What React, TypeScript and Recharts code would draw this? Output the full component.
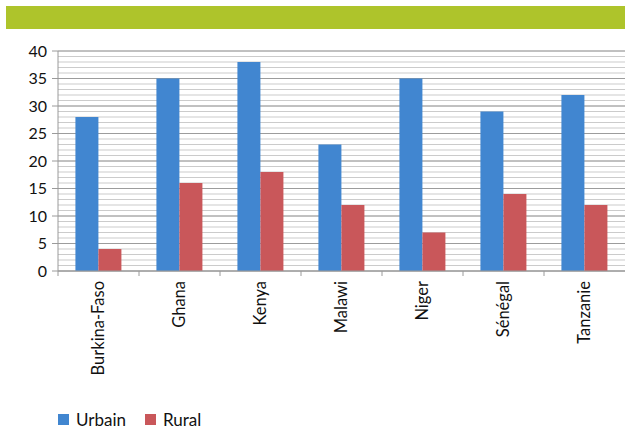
import React from "react";
import { BarChart, Bar, XAxis, YAxis, CartesianGrid, Legend } from "recharts";

const countries = ["Burkina-Faso", "Ghana", "Kenya", "Malawi", "Niger", "Sénégal", "Tanzanie"];
const urbain = [28, 35, 38, 23, 35, 29, 32];
const rural = [4, 16, 18, 12, 7, 14, 12];
const yTicks = [0, 5, 10, 15, 20, 25, 30, 35, 40];

const BLUE = "#4186D0";
const RED = "#C9575A";
const GREEN = "#AEC42B";
const FONT = "Lato, 'Open Sans', sans-serif";

const data = countries.map((c, i) => ({ country: c, Urbain: urbain[i], Rural: rural[i] }));

// minor gridlines, one per unit
const minorLines = Array.from({ length: 41 }, (_, i) => i);

const CountryTick = (props: any) => {
  const { x, y, payload } = props;
  const half = payload?.offset ?? 40.5;
  return (
    <g>
      <line x1={x - half} y1={y} x2={x - half} y2={y + 5} stroke="#9A9A9A" strokeWidth={1} />
      <text
        x={0}
        y={0}
        transform={`translate(${x + 5}, ${y + 10}) rotate(-90)`}
        textAnchor="end"
        fontSize={16.5}
        fontFamily={FONT}
        fill="#111"
      >
        {payload.value}
      </text>
    </g>
  );
};

const LegendContent = () => (
  <div style={{ display: "flex", alignItems: "center", fontFamily: FONT, fontSize: 17, color: "#111" }}>
    <span style={{ width: 11, height: 11, background: BLUE, display: "inline-block", marginRight: 7 }} />
    <span style={{ marginRight: 19 }}>Urbain</span>
    <span style={{ width: 11, height: 11, background: RED, display: "inline-block", marginRight: 7 }} />
    <span>Rural</span>
  </div>
);

export default function App() {
  return (
    <div style={{ position: "fixed", left: 0, top: 0, width: 625, height: 430, background: "#fff", overflow: "hidden" }}>
      <div style={{ position: "absolute", left: 6, top: 6, width: 619, height: 23, background: GREEN }} />
      <div style={{ position: "absolute", left: 0, top: 0 }}>
        <BarChart
          width={625}
          height={430}
          data={data}
          margin={{ top: 51, right: 0, left: 0, bottom: 59 }}
          barGap={0}
          barCategoryGap="21.5%"
        >
          <CartesianGrid vertical={false} horizontalValues={minorLines} stroke="#CBCBCB" strokeWidth={1} />
          <CartesianGrid vertical={false} horizontalValues={yTicks} stroke="#9C9C9C" strokeWidth={1} />
          <XAxis
            dataKey="country"
            height={100}
            interval={0}
            tickSize={0}
            tickMargin={0}
            tickLine={false}
            axisLine={{ stroke: "#9A9A9A" }}
            tick={<CountryTick />}
          />
          <YAxis
            width={58}
            domain={[0, 40]}
            ticks={yTicks}
            interval={0}
            tickSize={6}
            tickMargin={5}
            tickLine={{ stroke: "#9A9A9A" }}
            axisLine={{ stroke: "#9A9A9A" }}
            tick={{ fill: "#111", fontSize: 16, fontFamily: FONT }}
          />
          <Legend
            layout="horizontal"
            verticalAlign="middle"
            align="center"
            content={<LegendContent />}
            wrapperStyle={{ position: "absolute", top: 409, left: 58, width: 300 }}
          />
          <Bar dataKey="Urbain" fill={BLUE} isAnimationActive={false} />
          <Bar dataKey="Rural" fill={RED} isAnimationActive={false} />
        </BarChart>
      </div>
    </div>
  );
}
